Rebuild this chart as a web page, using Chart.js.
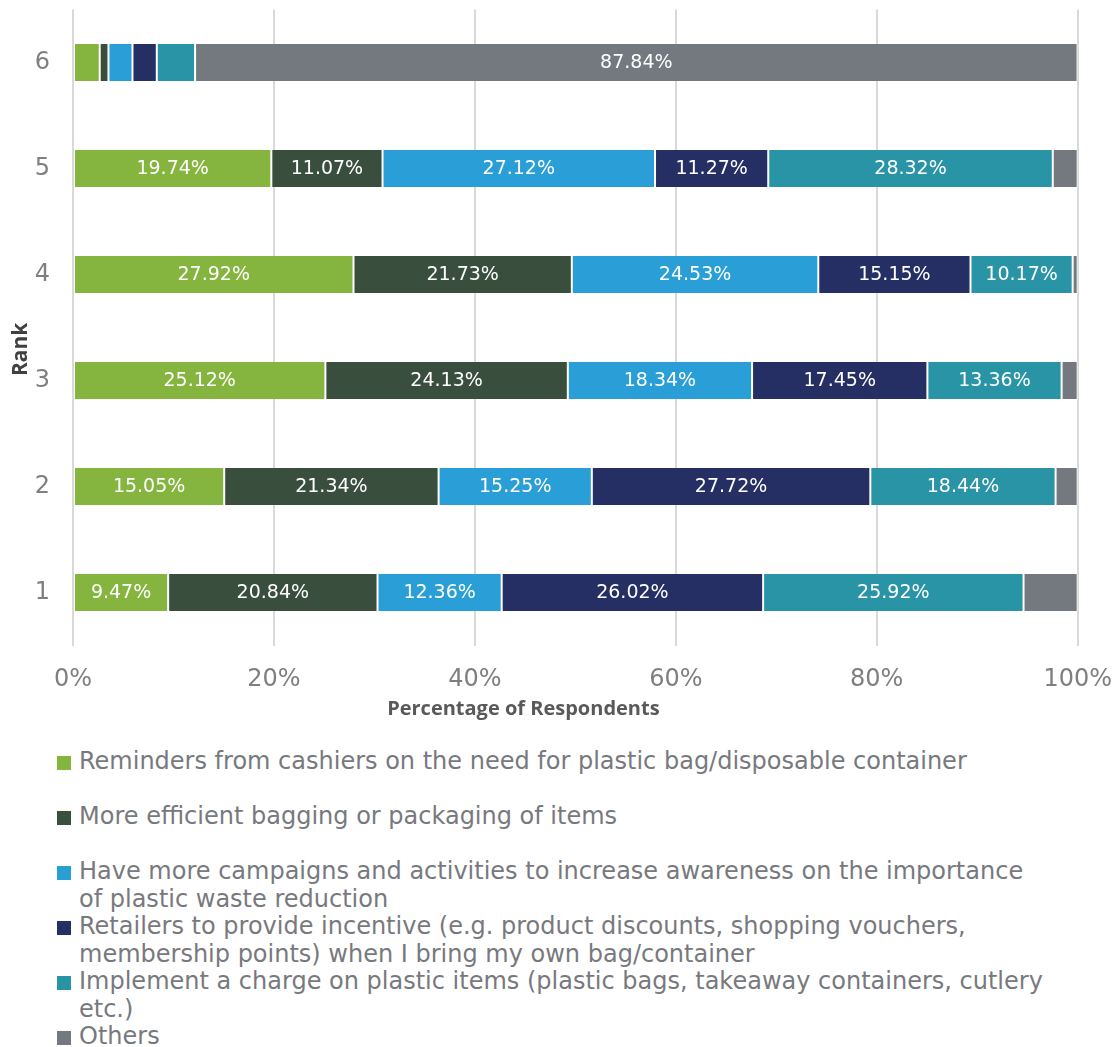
<!DOCTYPE html>
<html>
<head>
<meta charset="utf-8">
<script src="https://cdn.jsdelivr.net/npm/chart.js@4"></script>
<style>
  body { margin: 0; background: #fff; }
  #wrap { position: relative; width: 1120px; height: 1047px; }
  #box { position: absolute; left: 0; top: 0; width: 1120px; height: 735px; }
  #legend { position: absolute; left: 57px; top: 748px; font-family: "DejaVu Sans", Verdana, sans-serif; font-size: 24px; line-height: 27.5px; color: #77797e; }
  .item { height: 55px; display: flex; align-items: flex-start; }
  .swatch { width: 14px; height: 14px; margin-top: 8px; margin-right: 8px; flex: none; }
  .txt { white-space: nowrap; }
</style>
</head>
<body>
<div id="wrap">
  <div id="box"><canvas id="rank_chart"></canvas></div>
  <div id="legend"></div>
</div>
<script>
var RANKS = ['6', '5', '4', '3', '2', '1'];
var X_TICKS = [0, 20, 40, 60, 80, 100];
var REMINDERS = [2.66, 19.74, 27.92, 25.12, 15.05, 9.47];
var EFFICIENT = [0.87, 11.07, 21.73, 24.13, 21.34, 20.84];
var CAMPAIGNS = [2.39, 27.12, 24.53, 18.34, 15.25, 12.36];
var INCENTIVE = [2.42, 11.27, 15.15, 17.45, 27.72, 26.02];
var CHARGE = [3.81, 28.32, 10.17, 13.36, 18.44, 25.92];
var OTHERS = [87.84, 2.48, 0.50, 1.60, 2.20, 5.39];

var SERIES = [
    { label: 'Reminders from cashiers on the need for plastic bag/disposable container', data: REMINDERS, color: '#86b53f' },
    { label: 'More efficient bagging or packaging of items', data: EFFICIENT, color: '#3a4e3e' },
    { label: 'Have more campaigns and activities to increase awareness on the importance<br>of plastic waste reduction', data: CAMPAIGNS, color: '#2a9ed6' },
    { label: 'Retailers to provide incentive (e.g. product discounts, shopping vouchers,<br>membership points) when I bring my own bag/container', data: INCENTIVE, color: '#262f63' },
    { label: 'Implement a charge on plastic items (plastic bags, takeaway containers, cutlery<br>etc.)', data: CHARGE, color: '#2994a5' },
    { label: 'Others', data: OTHERS, color: '#74787f' }
];

// white percentage labels inside the wider segments
var segmentLabels = {
    id: 'segmentLabels',
    afterDatasetsDraw: function(chart) {
        var ctx = chart.ctx;
        ctx.save();
        ctx.fillStyle = '#ffffff';
        ctx.font = '19px "DejaVu Sans", Verdana, sans-serif';
        ctx.textAlign = 'center';
        ctx.textBaseline = 'middle';
        chart.data.datasets.forEach(function(ds, di) {
            var meta = chart.getDatasetMeta(di);
            meta.data.forEach(function(bar, i) {
                var v = ds.data[i];
                if (v < 9) return;
                var p = bar.getProps(['x', 'y', 'base'], true);
                ctx.fillText(v.toFixed(2) + '%', (p.x + p.base) / 2, p.y + 1);
            });
        });
        ctx.restore();
    }
};

window.onload = function() {
    var ctx = document.getElementById('rank_chart').getContext('2d');
    window.myBar = new Chart(ctx, {
        type: 'bar',
        data: {
            labels: RANKS,
            datasets: SERIES.map(function(s) {
                return {
                    label: s.label.replace('<br>', ' '),
                    data: s.data,
                    backgroundColor: s.color,
                    borderColor: '#ffffff',
                    borderWidth: { left: 1, right: 1, top: 0, bottom: 0 },
                    borderSkipped: false,
                    categoryPercentage: 1,
                    barPercentage: 0.35
                };
            })
        },
        options: {
            indexAxis: 'y',
            responsive: true,
            maintainAspectRatio: false,
            animation: false,
            layout: { padding: { top: 9.5, right: 42, left: 0, bottom: 0 } },
            plugins: {
                legend: { display: false },
                tooltip: { enabled: false }
            },
            scales: {
                x: {
                    stacked: true,
                    min: 0,
                    max: 100,
                    afterBuildTicks: function(axis) {
                        axis.ticks = X_TICKS.map(function(v) { return { value: v }; });
                    },
                    afterFit: function(axis) { axis.height = 89.5; },
                    grid: { color: '#d9d9d9', lineWidth: 2, drawTicks: true, tickLength: 12, tickColor: 'rgba(0,0,0,0)' },
                    border: { display: false },
                    ticks: {
                        padding: 8,
                        color: '#7f7f7f',
                        font: { family: '"DejaVu Sans", Verdana, sans-serif', size: 24 },
                        callback: function(v) { return v + '%'; }
                    },
                    title: {
                        display: true,
                        // trailing spaces nudge the title left, as in the original
                        text: 'Percentage of Respondents' + '                    ',
                        color: '#595959',
                        font: { family: '"Open Sans", sans-serif', size: 20, weight: 'bold' },
                        padding: { top: 0, bottom: 14 }
                    }
                },
                y: {
                    stacked: true,
                    afterFit: function(axis) { axis.width = 73; },
                    grid: { display: true, drawOnChartArea: false, drawTicks: true, tickLength: 28, tickColor: 'rgba(0,0,0,0)' },
                    border: { display: false },
                    ticks: {
                        padding: -5,
                        color: '#7f7f7f',
                        font: { family: '"DejaVu Sans", Verdana, sans-serif', size: 24 }
                    },
                    title: {
                        display: true,
                        text: 'Rank' + '        ',
                        color: '#404040',
                        font: { family: '"Open Sans", sans-serif', size: 21, weight: 'bold' },
                        padding: { top: 8, bottom: 0 }
                    }
                }
            }
        },
        plugins: [segmentLabels]
    });

    var lg = document.getElementById('legend');
    SERIES.forEach(function(s) {
        var item = document.createElement('div');
        item.className = 'item';
        item.innerHTML = '<span class="swatch" style="background:' + s.color + '"></span><span class="txt">' + s.label + '</span>';
        lg.appendChild(item);
    });
};
</script>
</body>
</html>
